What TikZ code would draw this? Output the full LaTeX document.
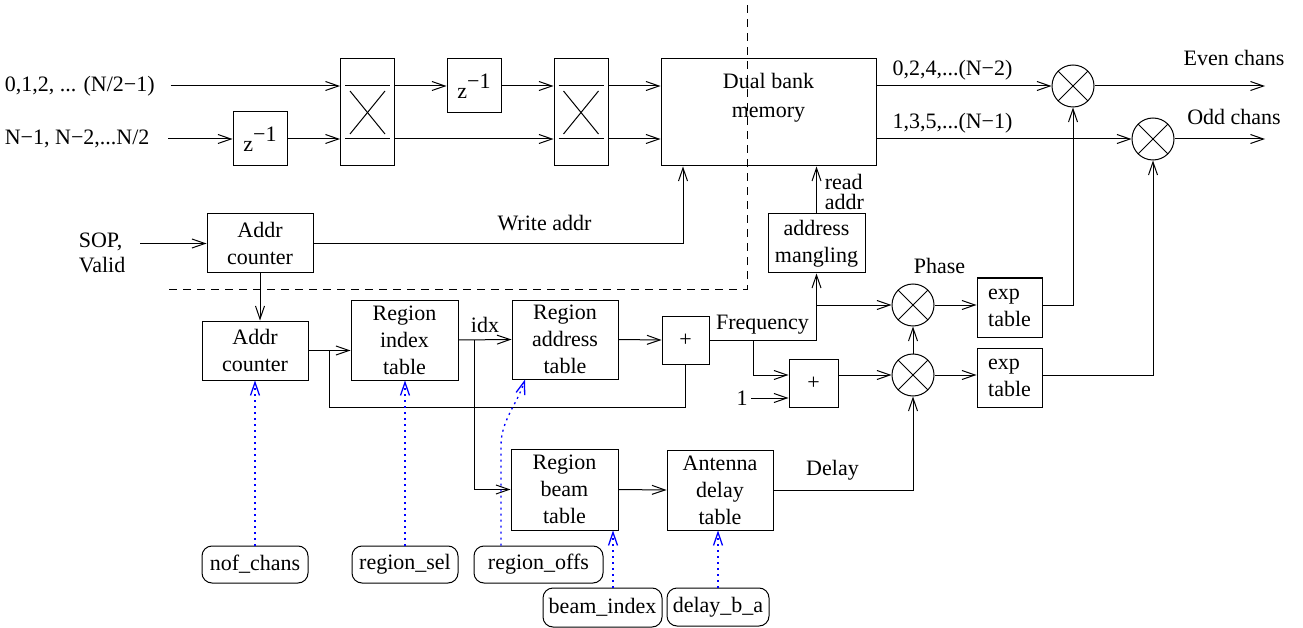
\documentclass[tikz,border=0pt]{standalone}
\usepackage{fontspec}
\setmainfont{Liberation Serif}
\usepackage{tikz}
\usetikzlibrary{arrows.meta}
\usetikzlibrary{calc}

\tikzset{
  every node/.style={font=\fontsize{22}{27}\selectfont},
  blok/.style 2 args={draw, rectangle, inner sep=0pt, align=center, minimum width=#1pt, minimum height=#2pt},
  parm/.style 2 args={draw, rounded corners=10pt, inner sep=0pt, minimum width=#1pt, minimum height=#2pt},
  mul/.style={draw, circle, minimum size=42pt, inner sep=0pt,
    path picture={\draw (path picture bounding box.south west) -- (path picture bounding box.north east)
      (path picture bounding box.north west) -- (path picture bounding box.south east);}},
  cfg/.style={->, draw=blue, line width=1.3pt, dash pattern=on 2pt off 4pt},
  zone/.style={dash pattern=on 8pt off 6pt},
}

\begin{document}
\begin{tikzpicture}[x=1pt, y=-1pt, line width=1pt, >={Straight Barb[length=13pt,width=9pt]}]
        \useasboundingbox (0,0) rectangle (1303,628);

        % Entrées
        \node[anchor=west] (in0) at (1,86) {0,1,2, ... (N/2−1)};
        \node[anchor=west] (in1) at (1,139) {N−1, N−2,...N/2};

        % Retards, permutations et mémoire
        \node[blok={54}{54}] (zlo) at (260,139) {z\raisebox{10pt}{−1}};
        \node[blok={54}{107}] (sw1) at (367.5,112.5) {};
        \node[blok={54}{54}] (zhi) at (474,86) {z\raisebox{10pt}{−1}};
        \node[blok={54}{107}] (sw2) at (581,112.5) {};
        \node[blok={215}{107}] (mem) at (768.5,112.5) {};
        \node[align=center] (memtxt) at (768.5,97.5) {Dual bank\\[2pt]memory};
        \foreach \n in {sw1,sw2} {
            \draw ($(\n.west |- zhi)+(5,0)$) -- ($(\n.east |- zhi)+(-5,0)$);
            \draw ($(\n.west |- zlo)+(5,0)$) -- ($(\n.east |- zlo)+(-5,0)$);
            \draw ($(\n.west |- zhi)+(10,5)$) -- ($(\n.east |- zlo)+(-10,-5)$);
            \draw ($(\n.east |- zhi)+(-10,5)$) -- ($(\n.west |- zlo)+(10,-5)$);
        }

        % Multiplicateurs de sortie
        \node[mul] (muE) at (1073,86) {};
        \node[mul] (muO) at (1153,139) {};
        \coordinate (evn) at (1265,86);
        \coordinate (odd) at (1265,139);
        \node (evntxt) at (1234,58) {Even chans};
        \node (oddtxt) at (1234,117) {Odd chans};
        \node (e0) at (952.5,70) {0,2,4,...(N−2)};
        \node (o0) at (952.5,123) {1,3,5,...(N−1)};

        % Compteurs et tables
        \node[anchor=west, align=left, font=\fontsize{22}{25}\selectfont] (sop) at (75,252.5) {SOP,\\Valid};
        \node[blok={106}{59}] (cnt1) at (260,243.5) {Addr\\counter};
        \node[blok={106}{59}] (cnt2) at (255,350.5) {Addr\\counter};
        \node[blok={107}{80}] (ridx) at (404.5,340) {Region\\index\\table};
        \node[blok={106}{79}] (radr) at (565,339.5) {Region\\address\\table};
        \node[blok={47}{48}] (add1) at (685.5,340) {+};
        \node[blok={97}{59}] (mang) at (816.5,243.5) {address\\mangling};
        \node[blok={49}{48}] (add2) at (813.5,383) {+};
        \node (one) at (742,398) {1};
        \node[mul] (mu1) at (913,305) {};
        \node[mul] (mu2) at (913,375) {};
        \node[blok={65}{59}, align=left] (exp1) at (1009.5,307.5) {exp\\table};
        \node[blok={65}{59}, align=left] (exp2) at (1009.5,377.5) {exp\\table};
        \node[blok={107}{81}] (rbeam) at (564.5,489.5) {Region\\beam\\table};
        \node[blok={106}{80}] (adel) at (720,490) {Antenna\\delay\\table};

        % Paramètres
        \node[parm={106}{37}] (nof) at (255,564.5) {nof\_chans};
        \node[parm={106}{37}] (rsel) at (405,564.5) {region\_sel};
        \node[parm={129}{37}] (roff) at (538.5,564.5) {region\_offs};
        \node[parm={119}{39}] (bidx) at (602.5,607.5) {beam\_index};
        \node[parm={102}{38}] (dba) at (718,607) {delay\_b\_a};

        % Étiquettes
        \node (idx) at (485,325) {idx};
        \node (frq) at (762.5,325) {Frequency};
        \node (wtxt) at (544.5,223) {Write addr};
        \node[anchor=west, align=left, font=\fontsize{22}{20}\selectfont] (rtxt) at (821,192) {read\\addr};
        \node (phs) at (939.5,266) {Phase};
        \node (dly) at (832.5,470) {Delay};

        % Chemin des données
        \draw[->] ($(in0.east)+(12,0)$) -- (sw1.west |- in0);
        \draw[->] ($(in1.east)+(15,0)$) -- (zlo.west);
        \draw[->] (zlo.east) -- (sw1.west |- zlo);
        \draw[->] (sw1.east |- zhi) -- (zhi.west);
        \draw[->] (zhi.east) -- (sw2.west |- zhi);
        \draw[->] (sw1.east |- zlo) -- (sw2.west |- zlo);
        \draw[->] (sw2.east |- zhi) -- (mem.west |- zhi);
        \draw[->] (sw2.east |- zlo) -- (mem.west |- zlo);
        \draw[->] (mem.east |- muE) -- (muE.west);
        \draw[->] (mem.east |- muO) -- (muO.west);
        \draw[->] (muE.east) -- (evn);
        \draw[->] (muO.east) -- (odd);

        % Adresses
        \draw[->] ($(sop.east |- cnt1)+(11,0)$) -- (cnt1.west);
        \draw[->] (cnt1.east) -| ($(mem.south)+(-85.5,0)$);
        \draw[->] (cnt1.south) -- (cnt1.south |- cnt2.north);
        \draw[->] (cnt2.east) -- (cnt2.east -| ridx.west);
        \draw ($(cnt2.east)+(21,0)$) |- ($(add1.south)+(0,43)$) -- (add1.south);
        \draw[->] (ridx.east) -- (radr.west);
        \draw[->] ($(ridx.east)+(16,0)$) |- (rbeam.west);
        \draw[->] (radr.east) -- (add1.west);
        \draw[->] (add1.east) -| (mang.south);
        \draw[->] (mang.north) -- (mang.north |- mem.south);
        \draw[->] (mang.south |- mu1) -- (mu1.west);
        \draw[->] ($(add1.east)+(43.5,0)$) |- ($(add2.west)+(0,-8)$);
        \draw[->] (one.east) -- (one.east -| add2.west);
        \draw[->] ($(add2.east)+(0,-8)$) -- (mu2.west);
        \draw[->] (mu2.north) -- (mu1.south);
        \draw[->] (rbeam.east) -- (adel.west);
        \draw[->] (adel.east) -| (mu2.south);
        \draw[->] (mu1.east) -- (mu1 -| exp1.west);
        \draw[->] (mu2.east) -- (mu2 -| exp2.west);
        \draw[->] (exp1.east |- mu1) -| (muE.south);
        \draw[->] (exp2.east |- mu2) -| (muO.south);

        % Frontière
        \draw[zone] (169,289) -- (747,289) -- (747,0);

        % Configuration
        \draw[cfg] (nof.north) -- (cnt2.south);
        \draw[cfg] (rsel.north) -- (rsel.north |- ridx.south);
        \draw[cfg] ($(roff.north)+(-37.5,0)$) -- ++(0,-100) .. controls +(0,-25) and +(-8,25) .. ($(radr.south)+(-40,0)$);
        \draw[cfg] ($(bidx.north)+(10.5,0)$) -- ($(rbeam.south)+(48.5,0)$);
        \draw[cfg] (dba.north) -- (dba.north |- adel.south);
    \end{tikzpicture}
\end{document}
